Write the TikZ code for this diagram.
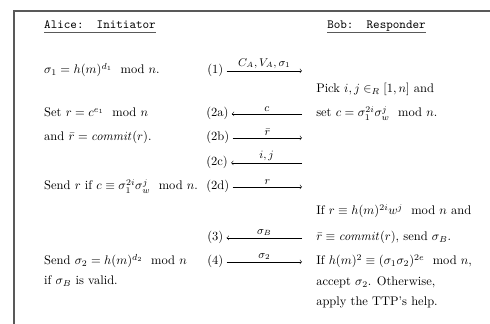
\documentclass[tikz,border=0pt]{standalone}
\usepackage{amsmath,amssymb}
\begin{document}
\begin{tikzpicture}[x=0.8pt,y=-0.8pt,
  txt/.style={anchor=base west,inner sep=0pt},
  stp/.style={anchor=base west,inner sep=0pt},
  msg/.style={->,line width=0.4pt},
  lbl/.style={above,inner sep=1.5pt,font=\small}]
\path[use as bounding box] (0,0) rectangle (490,324);

% frame
\draw[line width=1.2pt,black!65] (14,324) -- (14,11) -- (490,11);

% headers
\node[txt] (alice) at (44,29) {\texttt{Alice:\ \ Initiator}};
\node[txt] (bob) at (327,29) {\texttt{Bob:\ \ Responder}};
\draw[line width=0.9pt,black!65] ([yshift=-2.6pt]alice.base west) -- ([yshift=-2.6pt]alice.base east);
\draw[line width=0.9pt,black!65] ([yshift=-2.6pt]bob.base west) -- ([yshift=-2.6pt]bob.base east);

% right ends of the messages
\coordinate (rx) at (302,0);

% step 1
\node[txt] (a1) at (44,74) {$\sigma_1=h(m)^{d_1}\mod n$.};
\node[stp] (s1) at (207,74) {(1)};
\coordinate (l1) at ([shift={(2.5pt,2.5pt)}]s1.base east);
\draw[msg] (l1) -- node[lbl] {$C_A,V_A,\sigma_1$} (l1 -| rx);
\node[txt] (b1) at (316,93) {Pick $i,j\in_R[1,n]$ and};

% step 2a
\node[txt] (a2) at (44,117) {Set $r=c^{e_1}\mod n$};
\node[stp] (s2a) at (206,117) {(2a)};
\coordinate (l2a) at ([shift={(2.5pt,2.5pt)}]s2a.base east);
\draw[msg] (l2a -| rx) -- node[lbl] {$c$} (l2a);
\node[txt] (b2) at (316,117) {set $c=\sigma_1^{2i}\sigma_w^{j}\mod n$.};

% step 2b
\node[txt] (a3) at (44,141) {and $\bar r=\mathit{commit}(r)$.};
\node[stp] (s2b) at (206,141) {(2b)};
\coordinate (l2b) at ([shift={(2.5pt,2.5pt)}]s2b.base east);
\draw[msg] (l2b) -- node[lbl] {$\bar r$} (l2b -| rx);

% step 2c
\node[stp] (s2c) at (206,166) {(2c)};
\coordinate (l2c) at ([shift={(2.5pt,2.5pt)}]s2c.base east);
\draw[msg] (l2c -| rx) -- node[lbl] {$i,j$} (l2c);

% step 2d
\node[txt] (a4) at (44,190) {Send $r$ if $c\equiv\sigma_1^{2i}\sigma_w^{j}\mod n$.};
\node[stp] (s2d) at (206,190) {(2d)};
\coordinate (l2d) at ([shift={(2.5pt,2.5pt)}]s2d.base east);
\draw[msg] (l2d) -- node[lbl] {$r$} (l2d -| rx);

% step 3
\node[txt] (b3) at (316,215) {If $r\equiv h(m)^{2i}w^{j}\mod n$ and};
\node[stp] (s3) at (207,241) {(3)};
\coordinate (l3) at ([shift={(2.5pt,2.5pt)}]s3.base east);
\draw[msg] (l3 -| rx) -- node[lbl] {$\sigma_B$} (l3);
\node[txt] (b4) at (316,241) {$\bar r\equiv\mathit{commit}(r)$, send $\sigma_B$.};

% step 4
\node[txt] (a5) at (44,265) {Send $\sigma_2=h(m)^{d_2}\mod n$};
\node[txt] (a6) at (44,285) {if $\sigma_B$ is valid.};
\node[stp] (s4) at (207,265) {(4)};
\coordinate (l4) at ([shift={(2.5pt,2.5pt)}]s4.base east);
\draw[msg] (l4) -- node[lbl] {$\sigma_2$} (l4 -| rx);
\node[txt] (b5) at (316,265) {If $h(m)^2\equiv(\sigma_1\sigma_2)^{2e}\mod n$,};
\node[txt] (b6) at (316,286) {accept $\sigma_2$. Otherwise,};
\node[txt] (b7) at (316,306) {apply the TTP's help.};
\end{tikzpicture}
\end{document}
